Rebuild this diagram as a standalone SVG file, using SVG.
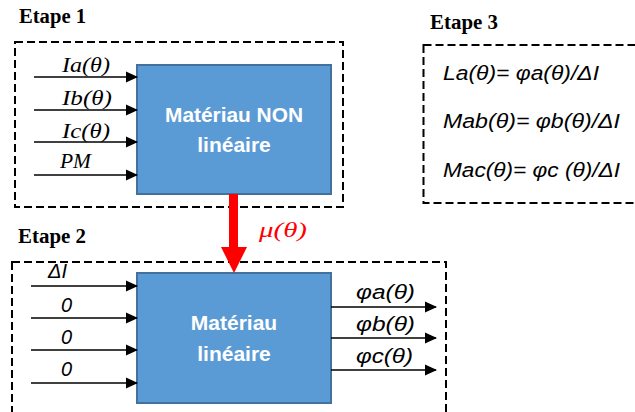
<svg xmlns="http://www.w3.org/2000/svg" width="635" height="412" viewBox="0 0 635 412">
<defs>
<marker id="ah" markerUnits="userSpaceOnUse" markerWidth="12" markerHeight="12" viewBox="0 0 12 12" refX="11" refY="6" orient="auto">
<path d="M0,0.5 L12,6 L0,11.5 Z" fill="#000"/>
</marker>
<style>
.dash{fill:none;stroke:#000;stroke-width:2;stroke-dasharray:8 4}
.blk{fill:#5B9BD5;stroke:#41719C;stroke-width:2}
.wire{stroke:#000;stroke-width:1.5;fill:none;marker-end:url(#ah)}
.btxt{font-family:"Liberation Sans",Arial,sans-serif;font-weight:bold;font-size:21px;fill:#fff;text-anchor:middle}
.step{font-family:"Liberation Serif","Times New Roman",serif;font-weight:bold;font-size:20px;fill:#000}
.mser{font-family:"Liberation Serif","Times New Roman",serif;font-style:italic;font-size:22px;fill:#000}
.msan{font-family:"Liberation Sans",Arial,sans-serif;font-style:italic;font-size:20px;fill:#000}
.eq{font-family:"Liberation Sans",Arial,sans-serif;font-style:italic;font-size:20px;fill:#000}
</style>
</defs>

<g id="etape1">
<rect class="dash" x="15" y="42" width="328" height="165"/>
<text class="step" x="19" y="23" textLength="67" lengthAdjust="spacingAndGlyphs">Etape 1</text>
</g>
<g id="etape2">
<rect class="dash" x="12" y="262" width="434" height="170"/>
<text class="step" x="18" y="243" textLength="68" lengthAdjust="spacingAndGlyphs">Etape 2</text>
</g>
<g id="etape3">
<rect class="dash" x="423.5" y="45" width="230" height="158"/>
<text class="step" x="430" y="29" textLength="68" lengthAdjust="spacingAndGlyphs">Etape 3</text>
<text class="eq" x="443" y="80" textLength="156" lengthAdjust="spacingAndGlyphs">La(θ)= φa(θ)/ΔI</text>
<text class="eq" x="443" y="128" textLength="177" lengthAdjust="spacingAndGlyphs">Mab(θ)= φb(θ)/ΔI</text>
<text class="eq" x="443" y="177" textLength="177" lengthAdjust="spacingAndGlyphs">Mac(θ)= φc (θ)/ΔI</text>
</g>

<g id="bloc1">
<rect class="blk" x="137" y="65" width="194" height="129"/>
<text class="btxt" x="234" y="122" textLength="138" lengthAdjust="spacingAndGlyphs">Matériau NON</text>
<text class="btxt" x="234" y="152">linéaire</text>
</g>
<g id="bloc2">
<rect class="blk" x="137" y="273" width="194" height="130"/>
<text class="btxt" x="234" y="330">Matériau</text>
<text class="btxt" x="234" y="361">linéaire</text>
</g>

<g id="connectors">
<line class="wire" x1="34" y1="77" x2="137" y2="77"/>
<line class="wire" x1="34" y1="110" x2="137" y2="110"/>
<line class="wire" x1="34" y1="142" x2="137" y2="142"/>
<line class="wire" x1="34" y1="175" x2="137" y2="175"/>
<line class="wire" x1="31" y1="286" x2="137" y2="286"/>
<line class="wire" x1="31" y1="318" x2="137" y2="318"/>
<line class="wire" x1="31" y1="350" x2="137" y2="350"/>
<line class="wire" x1="31" y1="383" x2="137" y2="383"/>
<line class="wire" x1="331" y1="307" x2="436" y2="307"/>
<line class="wire" x1="331" y1="338" x2="436" y2="338"/>
<line class="wire" x1="331" y1="370" x2="436" y2="370"/>
<g id="mu">
<rect x="229" y="194" width="9" height="54" fill="#FF0000"/>
<path d="M221,247 L247,247 L234,273 Z" fill="#FF0000"/>
</g>
<text class="mser" x="62" y="72" textLength="48" lengthAdjust="spacingAndGlyphs">Ia(θ)</text>
<text class="mser" x="62" y="105" textLength="50" lengthAdjust="spacingAndGlyphs">Ib(θ)</text>
<text class="mser" x="62" y="138" textLength="48" lengthAdjust="spacingAndGlyphs">Ic(θ)</text>
<text class="mser" x="60" y="168" textLength="31" lengthAdjust="spacingAndGlyphs">PM</text>
<text class="msan" x="48" y="278">ΔI</text>
<text class="msan" x="61" y="312">0</text>
<text class="msan" x="61" y="344">0</text>
<text class="msan" x="61" y="376">0</text>
<text class="msan" x="356" y="299" textLength="59" lengthAdjust="spacingAndGlyphs">φa(θ)</text>
<text class="msan" x="356" y="331" textLength="59" lengthAdjust="spacingAndGlyphs">φb(θ)</text>
<text class="msan" x="356" y="363" textLength="57" lengthAdjust="spacingAndGlyphs">φc(θ)</text>
<text x="259" y="237" font-family="Liberation Serif,'Times New Roman',serif" font-style="italic" font-size="22" fill="#FF0000" textLength="48" lengthAdjust="spacingAndGlyphs">μ(θ)</text>
</g>
</svg>
